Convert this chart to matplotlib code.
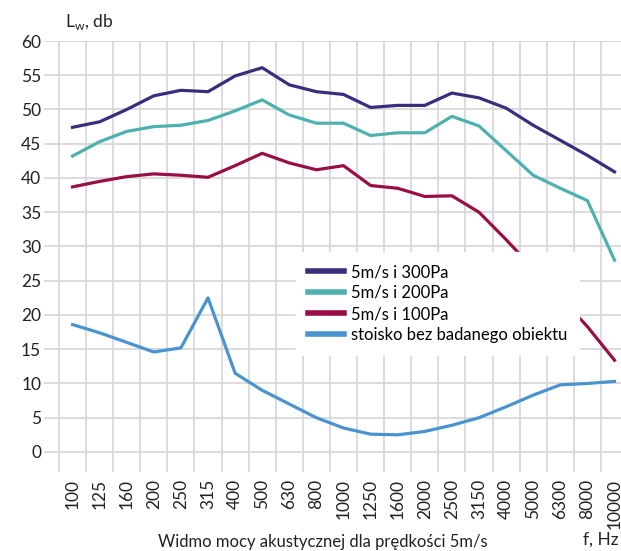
import matplotlib
matplotlib.use("Agg")
import matplotlib.pyplot as plt
from matplotlib.ticker import FixedLocator

plt.rcParams['font.family'] = ['Lato', 'DejaVu Sans']

freqs = ["100", "125", "160", "200", "250", "315", "400", "500", "630", "800", "1000",
         "1250", "1600", "2000", "2500", "3150", "4000", "5000", "6300", "8000", "10000"]

p300 = [47.4, 48.2, 50.0, 52.0, 52.8, 52.6, 54.9, 56.1, 53.6, 52.6, 52.2,
        50.3, 50.6, 50.6, 52.4, 51.7, 50.2, 47.7, 45.5, 43.3, 40.9]
p200 = [43.2, 45.3, 46.8, 47.5, 47.7, 48.4, 49.8, 51.4, 49.2, 48.0, 48.0,
        46.2, 46.6, 46.6, 49.0, 47.6, 44.0, 40.4, 38.5, 36.7, 28.0]
p100 = [38.7, 39.5, 40.2, 40.6, 40.4, 40.1, 41.8, 43.6, 42.2, 41.2, 41.8,
        38.9, 38.5, 37.3, 37.4, 35.0, 31.0, 26.8, 22.6, 18.3, 13.4]
stoisko = [18.6, 17.4, 16.0, 14.6, 15.2, 22.5, 11.5, 9.0, 7.0, 5.0, 3.5,
           2.6, 2.5, 3.0, 3.9, 5.0, 6.6, 8.3, 9.8, 10.0, 10.3]

labels = ["5m/s i 300Pa", "5m/s i 200Pa", "5m/s i 100Pa", "stoisko bez badanego obiektu"]
colors = ["#3a2d7d", "#4fb0b0", "#990e44", "#4a93d1"]

fig = plt.figure(figsize=(6.21, 5.51), dpi=100)
ax = fig.add_axes([44 / 621, 1 - 471.7 / 551, 1 - 44 / 621, (471.7 - 41) / 551])

x = list(range(len(freqs)))
for vals, lab, col in zip([p300, p200, p100, stoisko], labels, colors):
    ax.plot(x, vals, color=col, linewidth=2.3, label=lab, zorder=3)

ax.set_xlim(-1.052, 20.24)
ax.set_ylim(-2.88, 60)

ax.set_yticks(range(0, 61, 5))
ax.tick_params(axis='y', length=0, pad=2, labelsize=12.5, labelcolor="#222222")
ax.grid(axis='y', color="#d6d6d6", linewidth=1.2, zorder=0)

ax.set_xticks(x)
ax.set_xticklabels(freqs, rotation=90, fontsize=12.5, color="#222222")
ax.tick_params(axis='x', length=0, pad=5)
ax.xaxis.set_minor_locator(FixedLocator([i - 0.5 for i in range(21)]))
ax.tick_params(axis='x', which='minor', length=0)
ax.grid(axis='x', which='minor', color="#d6d6d6", linewidth=1.2, zorder=0)

for s in ax.spines.values():
    s.set_visible(False)

leg = ax.legend(loc='upper left', bbox_to_anchor=((288 - 44) / 577, 1 - (244 - 41) / 430.7),
                frameon=True, fancybox=True, framealpha=1, edgecolor='white',
                fontsize=12, handlelength=2.15, handletextpad=0.45,
                labelspacing=0.3, borderpad=0.7)
for h in leg.get_lines():
    h.set_linewidth(4)
leg.set_zorder(5)

fig.text(65 / 621, 1 - 22 / 551, r"L$_{\mathregular{w}}$, db", fontsize=12.5,
         color="#222222", va='center', ha='left')
fig.text(323 / 621, 1 / 551, "Widmo mocy akustycznej dla prędkości 5m/s",
         fontsize=12, color="#222222", ha='center', va='bottom')
fig.text(619 / 621, 3 / 551, "f, Hz", fontsize=12.5, color="#222222",
         ha='right', va='bottom')

fig.savefig("out.png", dpi=100)
